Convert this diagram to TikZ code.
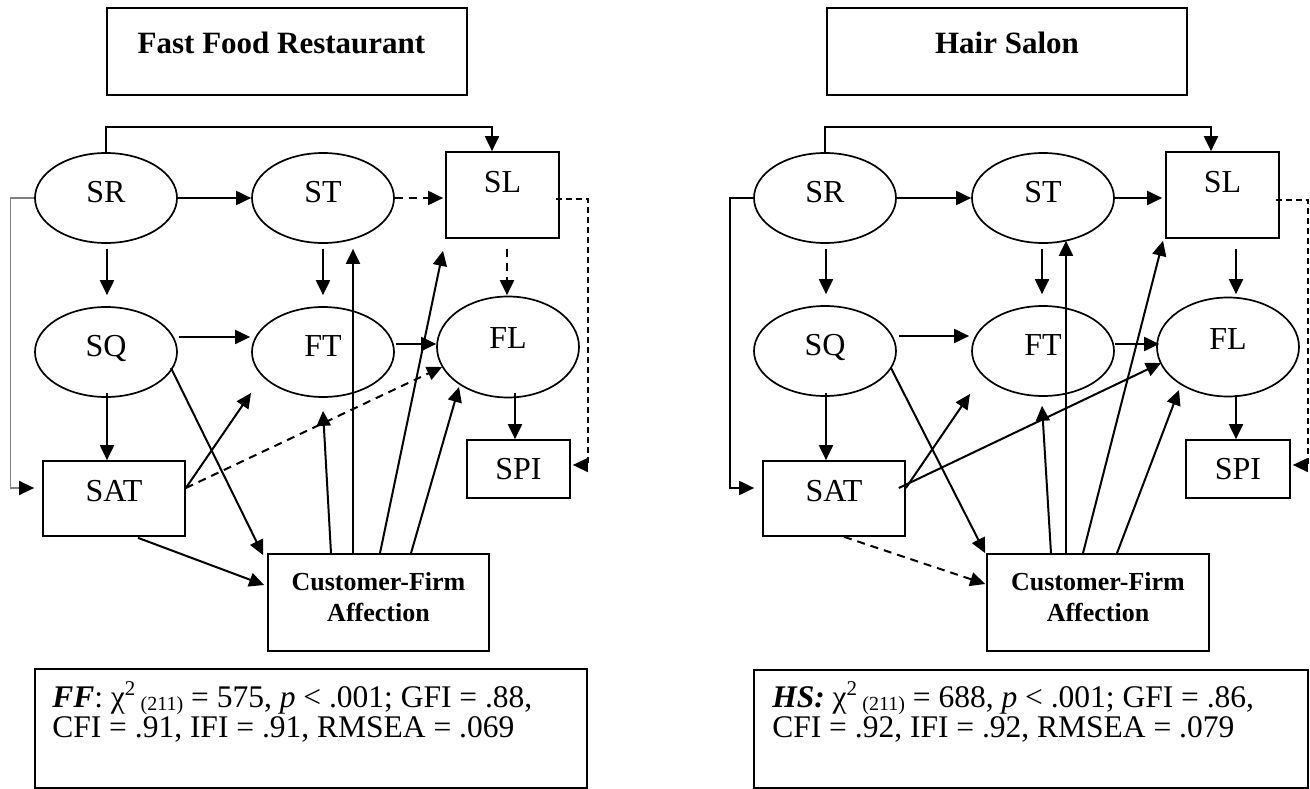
\documentclass[tikz,border=0pt]{standalone}
\usepackage{fontspec}
\setmainfont{Liberation Serif}
\usetikzlibrary{shapes.geometric,arrows.meta,calc}
\newcommand\myNodeFont{\fontsize{32}{32}\selectfont}
\newcommand\myTitleFont{\fontsize{31}{31}\selectfont\bfseries}
\newcommand\myCfaFont{\fontsize{26}{26}\selectfont\bfseries}
\newcommand\myStatFont{\fontsize{31.5}{30.5}\selectfont}
\newcommand\mySub[1]{{\fontsize{20}{20}\selectfont\raisebox{-3pt}{#1}}}
\newcommand\mySup[1]{\raisebox{12pt}{\fontsize{21}{21}\selectfont #1}}
\begin{document}
\begin{tikzpicture}[x=1pt,y=-1pt,
  ell/.style={draw, ellipse, line width=1.7pt, minimum width=142pt, minimum height=90pt, inner sep=0pt, font=\myNodeFont, text depth=0pt, text height=9.2pt},
  rbox/.style={draw, rectangle, line width=1.7pt, inner sep=0pt, font=\myNodeFont, text depth=0pt},
  titletext/.style={inner sep=0pt, font=\myTitleFont},
  cfatext/.style={inner sep=0pt, font=\myCfaFont, align=center},
  stattext/.style={inner sep=0pt, font=\myStatFont, align=left},
  arr/.style={line width=2pt, -{Triangle[length=15pt,width=14pt]}},
  darr/.style={arr, dash pattern=on 8pt off 6pt},
  tdash/.style={line width=1.4pt, dash pattern=on 6pt off 4pt, -{Triangle[length=15pt,width=14pt]}},
  garr/.style={line width=1.3pt, draw=gray, -{Triangle[length=15pt,width=14pt,color=black]}}
]
\useasboundingbox (0,0) rectangle (1310,789);
\fill[white] (0,0) rectangle (1310,789);

% ---------------- Left panel: Fast Food Restaurant ----------------
\node[rbox, minimum width=360pt, minimum height=87pt] (T1) at (287,51.5) {};
\node[titletext, anchor=base] (T1t) at ($(T1.center)+(-5.5,2)$) {Fast Food Restaurant};

\node[ell] (SR1) at (106,198) {SR};
\node[ell] (ST1) at (323,198) {ST};
\node[rbox, minimum width=113pt, minimum height=86pt, text height=0pt, text depth=4.8pt] (SL1) at (502.5,195) {SL};
\node[ell] (SQ1) at (106,352) {SQ};
\node[ell] (FT1) at (323,352) {FT};
\node[ell, minimum height=101pt, text height=3.2pt] (FL1) at (508,347) {FL};
\node[rbox, minimum width=142pt, minimum height=75pt, text height=6.2pt] (SAT1) at (114,498.5) {SAT};
\node[rbox, minimum width=103pt, minimum height=58pt, text height=21.2pt] (SPI1) at (518.5,469) {SPI};
\node[rbox, minimum width=221pt, minimum height=97pt] (CFA1) at (378.5,602.5) {};
\node[cfatext, anchor=base] (CFA1t) at ($(CFA1.center)+(0,19)$) {Customer-Firm\\[5pt]Affection};

\node[rbox, minimum width=552pt, minimum height=119pt] (FIT1) at (311,728.5) {};
\node[stattext, anchor=base west] (FIT1t) at ($(FIT1.west)+(18,9)$)
  {\textbf{\textit{FF}}: χ\mySup{2}\,\mySub{(211)} = 575, \textit{p} < .001; GFI = .88,\\
   CFI = .91, IFI = .91, RMSEA = .069};

\draw[arr] (SR1.north) -- ($(SR1.north)+(0,-25)$) -| ($(SL1.north)+(-10.5,0)$);
\draw[arr] (SR1.east) -- (ST1.west);
\draw[darr] (ST1.east) -- ($(ST1.east -| SL1.west)+(-2,0)$);
\draw[tdash] ($(SL1.east)+(-4,4)$) -- ++(32,0) |- ($(SPI1.east)+(2,-4)$);
\draw[arr] ($(SR1.south)+(1,5)$) -- ($(SQ1.north)+(1,-11)$);
\draw[arr] ($(ST1.south)+(0,5)$) -- ($(FT1.north)+(0,-11)$);
\draw[darr] ($(SL1.south)+(4.5,10)$) -- ($(FL1.north)+(-1,-0.5)$);
\draw[arr] ($(SQ1.east)+(1,-15)$) -- ($(FT1.west)+(-1,-15)$);
\draw[arr] ($(FT1.east)+(1,-8)$) -- ($(FL1.west)+(0,-3)$);
\draw[arr] ($(FL1.south)+(7,-5.5)$) -- ($(SPI1.north)+(-3.5,0)$);
\draw[arr] ($(SQ1.south)+(1,-5)$) -- ($(SAT1.north)+(-7,0)$);
\draw[garr] (SR1.west) -- ++(-24,0) |- ($(SAT1.west)+(-8,-10.5)$);
\draw[arr] ($(SAT1.east)+(0,-10.5)$) -- ($(FT1.center)+(-72,41)$);
\draw[darr] ($(SAT1.east)+(0,-10.5)$) -- ($(FL1.center)+(-66,20)$);
\draw[arr] ($(SQ1.center)+(65,16)$) -- ($(CFA1.north west)+(-4,2)$);
\draw[arr] ($(SAT1.south)+(24,1)$) -- ($(CFA1.west)+(-3,-17.5)$);
\draw[arr] ($(CFA1.north)+(-47.5,0)$) -- ($(FT1.south)+(0,13)$);
\draw[arr] ($(CFA1.north)+(-25.5,0)$) -- ($(ST1.south)+(30,5)$);
\draw[arr] ($(CFA1.north)+(1.5,0)$) -- ($(SL1.south)+(-59.5,12)$);
\draw[arr] ($(CFA1.north)+(32.5,0)$) -- ($(FL1.center)+(-49,40)$);

% ---------------- Right panel: Hair Salon ----------------
\node[rbox, minimum width=360pt, minimum height=87pt] (T2) at (1007,51.5) {};
\node[titletext, anchor=base] (T2t) at ($(T2.center)+(0,2)$) {Hair Salon};

\node[ell] (SR2) at (825,198) {SR};
\node[ell] (ST2) at (1043,198) {ST};
\node[rbox, minimum width=113pt, minimum height=86pt, text height=0pt, text depth=4.8pt] (SL2) at (1222.5,195) {SL};
\node[ell] (SQ2) at (825,351) {SQ};
\node[ell] (FT2) at (1043,351) {FT};
\node[ell, minimum height=99pt, text height=5.2pt] (FL2) at (1228,347) {FL};
\node[rbox, minimum width=142pt, minimum height=75pt, text height=6.2pt] (SAT2) at (834,498.5) {SAT};
\node[rbox, minimum width=104pt, minimum height=58pt, text height=21.2pt] (SPI2) at (1238,469) {SPI};
\node[rbox, minimum width=222pt, minimum height=97pt] (CFA2) at (1098,602.5) {};
\node[cfatext, anchor=base] (CFA2t) at ($(CFA2.center)+(0,19)$) {Customer-Firm\\[5pt]Affection};

\node[rbox, minimum width=554pt, minimum height=118pt] (FIT2) at (1031,729) {};
\node[stattext, anchor=base west] (FIT2t) at ($(FIT2.west)+(19,8.5)$)
  {\textbf{\textit{HS:}} χ\mySup{2}\,\mySub{(211)} = 688, \textit{p} < .001; GFI = .86,\\
   CFI = .92, IFI = .92, RMSEA = .079};

\draw[arr] (SR2.north) -- ($(SR2.north)+(0,-25)$) -| ($(SL2.north)+(-11.5,0)$);
\draw[arr] (SR2.east) -- (ST2.west);
\draw[arr] (ST2.east) -- ($(ST2.east -| SL2.west)+(-3,0)$);
\draw[tdash] ($(SL2.east)+(-4,5)$) -- ++(32,0) |- ($(SPI2.east)+(2,-4)$);
\draw[arr] ($(SR2.south)+(1,5)$) -- ($(SQ2.north)+(1,-11)$);
\draw[arr] ($(ST2.south)+(-1,5)$) -- ($(FT2.north)+(-1,-11)$);
\draw[arr] ($(SL2.south)+(13.5,10)$) -- ($(FL2.north)+(8,-2.5)$);
\draw[arr] ($(SQ2.east)+(2,-15)$) -- ($(FT2.west)+(-2,-15)$);
\draw[arr] ($(FT2.east)+(0,-7)$) -- ($(FL2.west)+(3,-3)$);
\draw[arr] ($(FL2.south)+(8,-2)$) -- ($(SPI2.north)+(-2,0)$);
\draw[arr] ($(SQ2.south)+(1,-4)$) -- ($(SAT2.north)+(-8,0)$);
\draw[arr] (SR2.west) -- ++(-23,0) |- ($(SAT2.west)+(-8,-10.5)$);
\draw[arr] ($(SAT2.east)+(0,-10.5)$) -- ($(FT2.center)+(-73,43)$);
\draw[arr] ($(SAT2.east)+(-7,-10.5)$) -- ($(FL2.center)+(-67,16)$);
\draw[arr] ($(SQ2.center)+(66,17)$) -- ($(CFA2.north west)+(-1,0)$);
\draw[darr] ($(SAT2.south)+(10,0)$) -- ($(CFA2.west)+(-1,-18.5)$);
\draw[arr] ($(CFA2.north)+(-47,0)$) -- ($(FT2.south)+(-1,9)$);
\draw[arr] ($(CFA2.north)+(-32,0)$) -- ($(ST2.south)+(23,-3)$);
\draw[arr] ($(CFA2.north)+(-15,0)$) -- ($(SL2.south)+(-59.5,2)$);
\draw[arr] ($(CFA2.north)+(19,0)$) -- ($(FL2.center)+(-49,43)$);
\end{tikzpicture}
\end{document}
